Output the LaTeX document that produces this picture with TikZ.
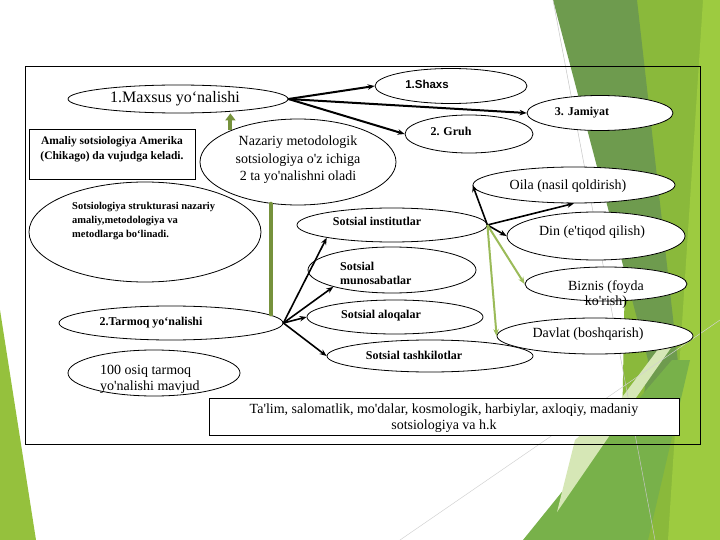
\documentclass[tikz,border=0pt]{standalone}
\usepackage{fontspec}
\setmainfont{Liberation Serif}[Ligatures=TeXOff]
\newfontfamily\arialfont{Liberation Sans}
\usetikzlibrary{shapes.geometric,arrows.meta}
\definecolor{dkgreen}{HTML}{6E9B4E}
\definecolor{brgreen}{HTML}{8AB93B}
\definecolor{ltgreen}{HTML}{9DCB40}
\definecolor{mdgreen}{HTML}{78B14A}
\definecolor{palegreen}{HTML}{D6E7B6}
\definecolor{olive}{HTML}{76923C}
\definecolor{lolive}{HTML}{9BBB59}
\begin{document}
\begin{tikzpicture}[x=1pt,y=-1pt,
  ell/.style={ellipse, draw, fill=white, inner sep=0pt, line width=0.8pt},
  boxn/.style={rectangle, draw, fill=white, inner sep=0pt, line width=0.9pt},
  reg/.style={font=\fontsize{14}{16}\selectfont, inner sep=0pt},
  bld/.style={font=\fontsize{12}{14}\selectfont\bfseries, inner sep=0pt},
  arr/.style={line width=1.6pt, -{Stealth[length=7pt,width=5.5pt]}},
  garr/.style={line width=2pt, lolive, -{Stealth[length=7pt,width=5.5pt]}}]
\useasboundingbox (0,0) rectangle (720,540);
\fill[white] (0,0) rectangle (720,540);
% background decoration
\fill[brgreen] (630,0) -- (720,0) -- (720,540) -- (620,540) -- cycle;
\fill[dkgreen] (553,0) -- (637,0) -- (680,380) -- (660,480) -- (640,430) -- (648,360) -- cycle;
\fill[ltgreen] (703,0) -- (720,0) -- (720,540) -- (668,540) -- cycle;
\fill[mdgreen] (523,540) -- (612,430) -- (672,360) -- (690,360) -- (648,540) -- cycle;
\fill[palegreen] (557,512) -- (575,440) -- (620,400) -- (665,340) -- (680,335) -- (612,432) -- cycle;
\fill[ltgreen!95!black] (0,310) -- (36,540) -- (0,540) -- cycle;
\draw[gray!45, line width=0.5pt] (553,0) -- (655,540);
\draw[gray!35, line width=0.5pt] (400,540) -- (720,320);
% frame
\draw[line width=1pt] (25,67) rectangle (700,444);
% ellipses and boxes
\node[ell, minimum width=220, minimum height=28] (maxsus) at (178,99) {};
\node[ell, minimum width=152, minimum height=35] (shaxs) at (451,86) {};
\node[ell, minimum width=146, minimum height=35] (jamiyat) at (600,113) {};
\node[ell, minimum width=128, minimum height=38] (gruh) at (469,134) {};
\node[ell, minimum width=196, minimum height=86] (nazariy) at (298,162) {};
\node[boxn, minimum width=166, minimum height=50] (amaliy) at (112,154) {};
\node[ell, minimum width=232, minimum height=100] (struk) at (145,232) {};
\node[ell, minimum width=190, minimum height=34] (instit) at (392,225) {};
\node[ell, minimum width=168, minimum height=46] (munos) at (392,270) {};
\node[ell, minimum width=176, minimum height=34] (aloqa) at (395,317) {};
\node[ell, minimum width=206, minimum height=32] (tashkil) at (430,356) {};
\node[ell, minimum width=224, minimum height=34] (tarmoq) at (171,323) {};
\node[ell, minimum width=172, minimum height=46] (osiq) at (154,373) {};
\node[boxn, minimum width=470, minimum height=37] (talim) at (444,416.5) {};
\node[ell, minimum width=202, minimum height=36] (oila) at (574,185) {};
\node[ell, minimum width=178, minimum height=48] (din) at (596,236) {};
\node[ell, minimum width=162, minimum height=34] (biznis) at (606,284) {};
\node[ell, minimum width=196, minimum height=36] (davlat) at (595,336) {};
% texts
\node[inner sep=0pt, font=\fontsize{16}{19}\selectfont] at (175,99) {1.Maxsus yo‘nalishi};
\node[inner sep=0pt, font=\arialfont\bfseries\fontsize{11.5}{13}\selectfont] at (427,84) {1.Shaxs};
\node[bld] at (582,112.5) {3. Jamiyat};
\node[bld] at (451,131) {2. Gruh};
\node[reg, align=center, font=\fontsize{14}{17.5}\selectfont] at (298,160) {Nazariy metodologik\\sotsiologiya o'z ichiga\\2 ta yo'nalishni oladi};
\node[bld, align=center, font=\fontsize{11.5}{15}\selectfont\bfseries] at (112,149) {Amaliy sotsiologiya Amerika\\(Chikago) da vujudga keladi.};
\node[inner sep=0pt, align=left, anchor=north west, font=\fontsize{10.5}{14}\selectfont\bfseries] at (72,202) {Sotsiologiya strukturasi nazariy\\amaliy,metodologiya va\\metodlarga bo‘linadi.};
\node[bld] at (377,221) {Sotsial institutlar};
\node[bld, align=left, anchor=west] at (340,273) {Sotsial\\munosabatlar};
\node[bld] at (381,316) {Sotsial aloqalar};
\node[bld] at (414,355) {Sotsial tashkilotlar};
\node[bld] at (151,323) {2.Tarmoq yo‘nalishi};
\node[reg, align=left, anchor=west] at (100,379) {100 osiq tarmoq\\yo'nalishi mavjud};
\node[reg, align=center] at (444,418) {Ta'lim, salomatlik, mo'dalar, kosmologik, harbiylar, axloqiy, madaniy\\sotsiologiya va h.k};
\node[reg] at (568,186) {Oila (nasil qoldirish)};
\node[reg] at (592,232) {Din (e'tiqod qilish)};
\node[reg, align=center, font=\fontsize{14}{15}\selectfont] at (606,295) {Biznis (foyda\\ko'rish)};
\node[reg] at (588,334) {Davlat (boshqarish)};
% connectors
\draw[line width=2pt, -{Stealth[length=7pt,width=5.5pt]}] (maxsus.east) -- (shaxs.west);
\draw[line width=2pt, -{Stealth[length=7pt,width=5.5pt]}] (maxsus.east) -- (jamiyat.west);
\draw[line width=2pt, -{Stealth[length=7pt,width=5.5pt]}] (maxsus.east) -- (gruh.west);
\draw[line width=4pt, olive, -{Triangle[length=7pt,width=10pt]}] (nazariy.155) -- (nazariy.155 |- maxsus.south);
\draw[line width=4pt, olive, line cap=round] (nazariy.237) -- (nazariy.237 |- tarmoq.5);
\draw[arr] (tarmoq.east) -- (instit.191);
\draw[arr] (tarmoq.east) -- (munos.196);
\draw[arr] (tarmoq.east) -- (aloqa.west);
\draw[arr] (tarmoq.east) -- (tashkil.west);
\draw[arr] (instit.east) -- (oila.west);
\draw[arr] (instit.east) -- (oila.south);
\draw[arr] (instit.east) -- (din.west);
\draw[garr] (instit.east) -- (biznis.west);
\draw[garr] (instit.east) -- (davlat.west);
\end{tikzpicture}
\end{document}
